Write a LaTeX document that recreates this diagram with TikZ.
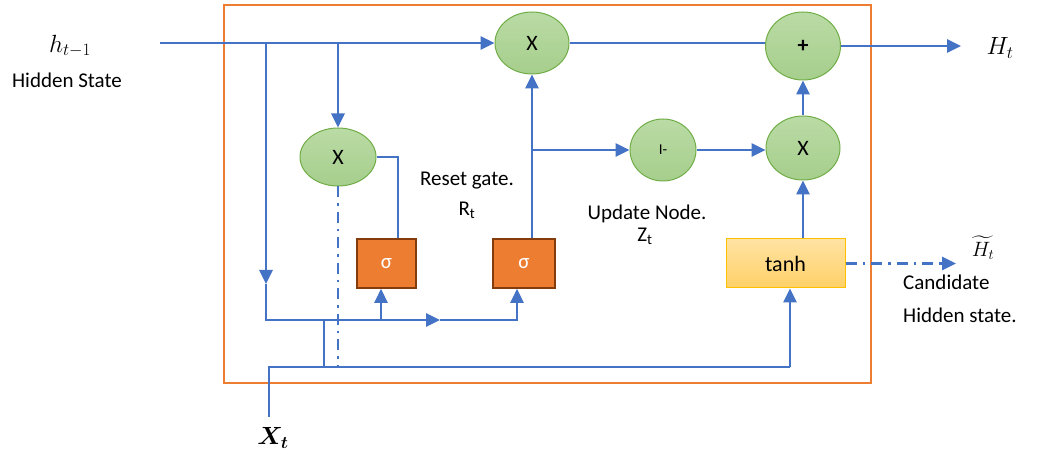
\documentclass[tikz,border=0pt]{standalone}
\usepackage{amsmath}
\usepackage{fontspec}
\setmainfont{Carlito}
\usetikzlibrary{shapes.geometric,arrows.meta}
\definecolor{wire}{HTML}{4472C4}
\definecolor{frame}{HTML}{ED7D31}
\definecolor{opfillA}{RGB}{186,219,165}
\definecolor{opfillB}{RGB}{166,206,140}
\definecolor{opdraw}{HTML}{70AD47}
\definecolor{sigfill}{HTML}{ED7D31}
\definecolor{sigdraw}{HTML}{843C0C}
\definecolor{tanhA}{HTML}{FFE3A3}
\definecolor{tanhB}{HTML}{FFD067}
\definecolor{tanhdraw}{HTML}{FFC000}
\tikzset{
  lbl/.style={font=\fontsize{21}{25}\selectfont, inner sep=0pt},
  op/.style={ellipse, draw=opdraw, line width=1pt, top color=opfillA, bottom color=opfillB,
    inner sep=0pt, font=\fontsize{22}{26}\selectfont},
  sigbox/.style={rectangle, draw=sigdraw, line width=1.6pt, fill=sigfill, text=white,
    minimum height=49pt, inner sep=0pt, font=\fontsize{21}{25}\selectfont},
  tanhbox/.style={rectangle, draw=tanhdraw, line width=1pt, top color=tanhA, bottom color=tanhB,
    minimum width=119pt, minimum height=49pt, inner sep=0pt, font=\fontsize{22}{26}\selectfont},
  wireline/.style={draw=wire, line width=2.6pt},
  tip/.style={-{Triangle[length=14pt,width=13pt]}},
  dashdot/.style={dash pattern=on 11pt off 6pt on 2.5pt off 6pt},
}
\begin{document}
\begin{tikzpicture}[x=1pt,y=-1pt]
\useasboundingbox (0,0) rectangle (1039,454);

% outer cell frame
\draw[frame, line width=2pt] (224,5) rectangle (871,383);

% operation nodes
\node[op, minimum width=74pt, minimum height=62pt] (mtop) at (532,43) {X};
\node[op, minimum width=75pt, minimum height=68pt, font=\fontsize{22}{26}\selectfont\bfseries] (plus) at (803,46) {+};
\node[op, minimum width=76pt, minimum height=58pt] (mleft) at (338,157) {X};
\node[op, minimum width=66pt, minimum height=62pt, font=\fontsize{15}{18}\selectfont] (inv) at (663,150) {I-};
\node[op, minimum width=74pt, minimum height=64pt] (mright) at (803,148) {X};

\node[sigbox, minimum width=59pt] (sig1) at (386.5,263.5) {σ};
\node[sigbox, minimum width=62pt] (sig2) at (524,263.5) {σ};
\node[tanhbox] (tanh) at (785.5,263.5) {tanh};

% labels
\node[font=\fontsize{23}{27}\selectfont] (hprev) at (70,46) {$h_{t-1}$};
\node[lbl] (hprevtxt) at (67,80) {Hidden State};
\node[font=\fontsize{23}{27}\selectfont] (hout) at (1000,48) {$H_t$};
\node[font=\fontsize{23}{27}\selectfont] (xin) at (273,438) {$\boldsymbol{X_t}$};
\node[lbl] (resettxt) at (467,181) {Reset gate.};
\node[lbl] (resetsym) at (467,210) {R\textsubscript{t}};
\node[lbl] (updtxt) at (647,214) {Update Node.};
\node[lbl] (updsym) at (645,236) {Z\textsubscript{t}};
\node[font=\fontsize{22}{26}\selectfont, inner sep=0pt] (hcand) at (983,248) {$\widetilde{H_t}$};
\node[lbl, anchor=west] (candtxt) at (903,282) {Candidate};
\node[lbl, anchor=west] (candtxt2) at (903,315) {Hidden state.};

% junction points
\coordinate (hin) at (160,43);
\coordinate (jA) at (266,43);
\coordinate (jB) at (338,43);
\coordinate (jArrow) at (266,284);
\coordinate (jAdown) at (266,320);
\coordinate (jS1) at (381,320);
\coordinate (jMid) at (440,320);
\coordinate (jS2) at (517,320);
\coordinate (kL) at (398,157);
\coordinate (kR) at (532,150);
\coordinate (xbot) at (269,417);
\coordinate (xcorner) at (269,367);
\coordinate (xup) at (324,367);
\coordinate (xupt) at (324,320);
\coordinate (xdash) at (338,367);
\coordinate (xright) at (790,367);
\coordinate (hend) at (961,46);
\coordinate (cend) at (956,263.5);

% previous hidden state and its branches
\draw[wireline, tip] (hin) -- (mtop.west);
\draw[wireline, tip] (jB) -- (mleft.north);
\draw[wireline, tip] (jA) -- (jArrow);
\draw[wireline, tip] (jArrow) -- (jAdown) -- (jMid);
\draw[wireline, tip] (jMid) -- (jS2) -- (jS2 |- sig2.south);
\draw[wireline, tip] (jS1) -- (jS1 |- sig1.south);

% reset and update branches
\draw[wireline] (mleft.east) -- (kL) -- (kL |- sig1.north);
\draw[wireline, tip] (kR |- sig2.north) -- (mtop.south);
\draw[wireline, tip] (kR) -- (inv.west);
\draw[wireline, tip] (inv.east) -- (inv.east -| mright.west);
\draw[wireline, tip] (mright.north) -- (plus.south);
\draw[wireline] (mtop.east) -- (mtop.east -| plus.west);
\draw[wireline, tip] (plus.east) -- (hend);

% candidate path
\draw[wireline, tip] (tanh.north -| mright) -- (mright.south);
\draw[wireline, dashdot, tip] (tanh.east) -- (cend);

% input
\draw[wireline] (xbot) -- (xcorner) -- (xright);
\draw[wireline, tip] (xright) -- (xright |- tanh.south);
\draw[wireline] (xup) -- (xupt);
\draw[wireline, dashdot] (mleft.south) -- (xdash);
\end{tikzpicture}
\end{document}
